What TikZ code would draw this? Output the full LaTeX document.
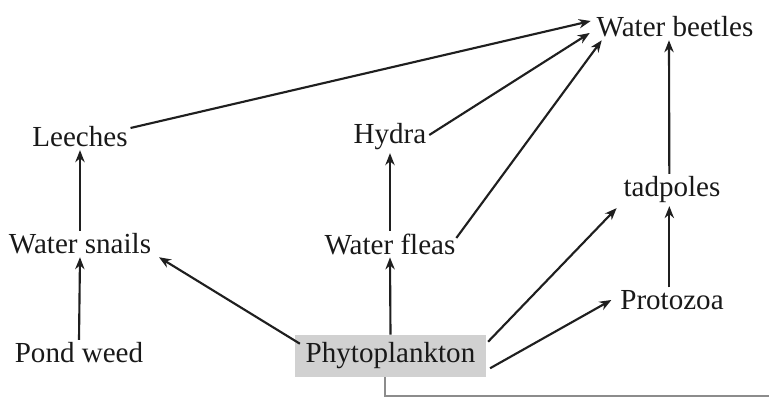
\documentclass[tikz,border=0pt]{standalone}
\usepackage{fontspec}
\setmainfont{Liberation Serif}
\usetikzlibrary{arrows.meta}
\begin{document}
\begin{tikzpicture}[x=0.75pt,y=-0.75pt,
  lbl/.style={font=\fontsize{21.8}{24}\selectfont, inner sep=2pt, text=black!90},
  arr/.style={line width=1.6pt, black!88, -{Stealth[length=9pt,width=7pt]}},
  graybox/.style={lbl, fill=black!18, inner xsep=5pt, inner ysep=5pt}]
\useasboundingbox (0,0) rectangle (769,398);
\node[lbl] (beetles) at (675,27) {Water beetles};
\node[lbl] (leeches) at (80,137) {Leeches};
\node[lbl] (hydra) at (390,137) {Hydra};
\node[lbl] (tadpoles) at (672,190) {tadpoles};
\node[lbl] (snails) at (80,244) {Water snails};
\node[lbl] (fleas) at (390,244) {Water fleas};
\node[lbl] (protozoa) at (672,300) {Protozoa};
\node[lbl] (pond) at (79,353) {Pond weed};
\node[graybox, minimum width=143pt, minimum height=31.5pt] (phyto) at (390.5,356) {Phytoplankton};
\coordinate (edge) at (769,396);
% arrows
\draw[arr] ([shift={(0,-9)}]leeches.east) -- ([shift={(-3,-6)}]beetles.west);
\draw[arr] ([shift={(0,-2)}]hydra.east) -- ([shift={(-4,6)}]beetles.west);
\draw[arr] ([shift={(-2,-6)}]fleas.east) -- ([shift={(8,0)}]beetles.south west);
\draw[arr] ([xshift=-2]tadpoles.north) -- ([xshift=-4.5]beetles.south);
\draw[arr] ([xshift=-2]protozoa.north) -- ([xshift=-2]tadpoles.south);
\draw[arr] (pond.north) -- (snails.south);
\draw[arr] (snails.north) -- (leeches.south);
\draw[arr] (fleas.north) -- (hydra.south);
\draw[arr] (phyto.north) -- (fleas.south);
\draw[arr] ([shift={(5,9)}]phyto.north west) -- ([shift={(5,0)}]snails.south east);
\draw[arr] ([shift={(2,7)}]phyto.north east) -- ([shift={(-4,2)}]tadpoles.south west);
\draw[arr] ([shift={(4,-9)}]phyto.south east) -- ([shift={(-6,0)}]protozoa.west);
\draw[line width=1.5pt, black!45] ([xshift=-4]phyto.south) |- (edge);
\end{tikzpicture}
\end{document}
